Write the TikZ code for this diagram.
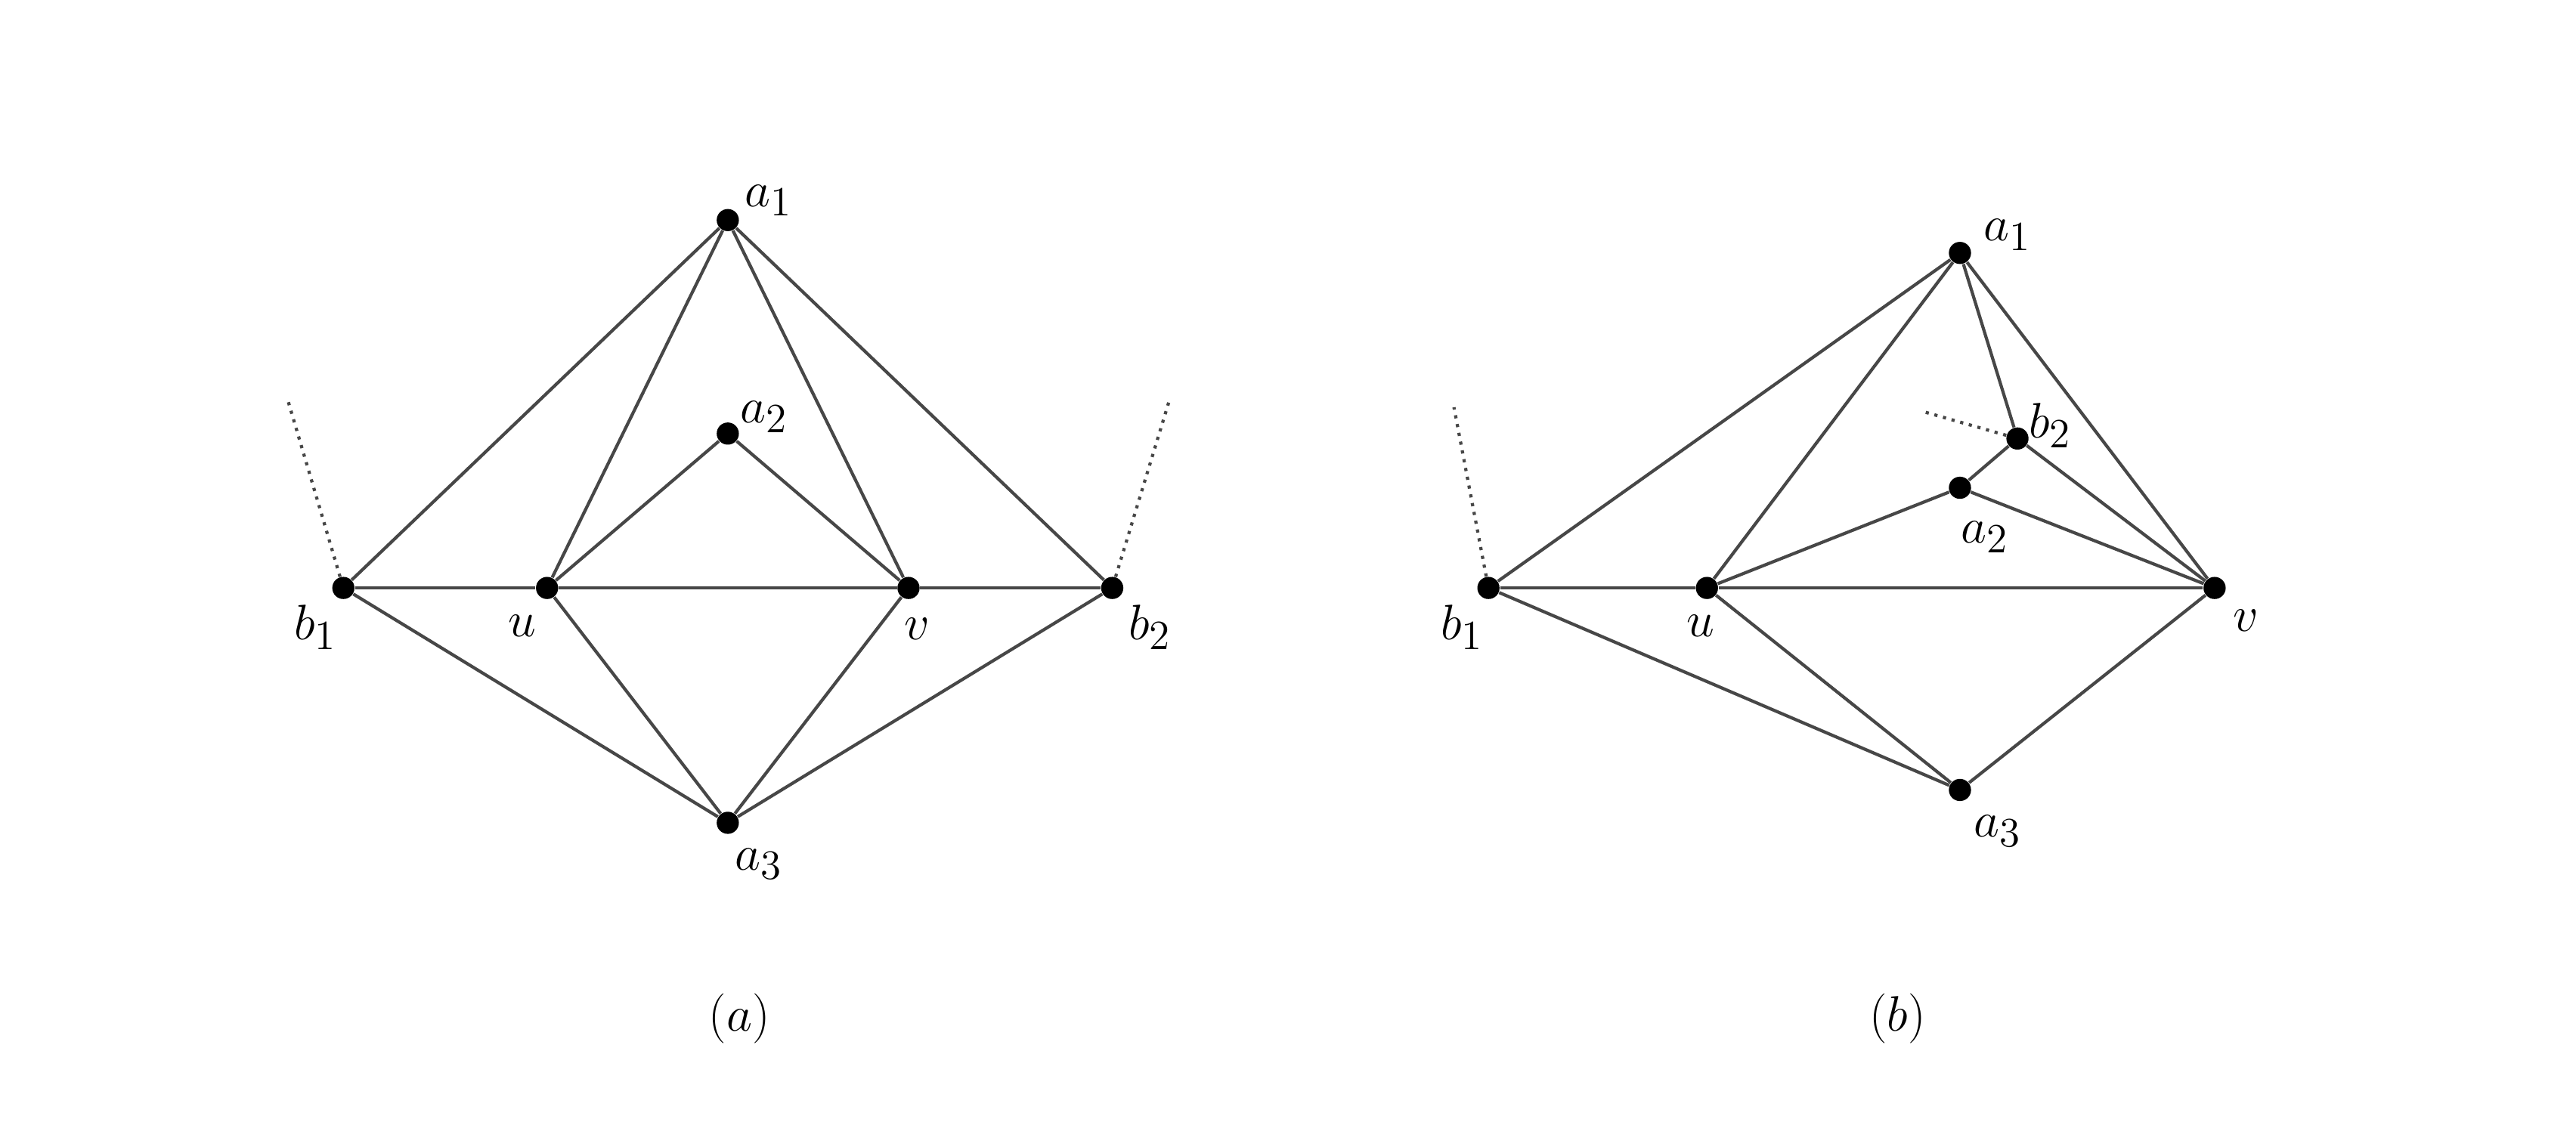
\documentclass[tikz,border=0pt]{standalone}
\begin{document}
\begin{tikzpicture}[x=0.02cm,y=-0.02cm,
  vtx/.style={circle,fill=black,inner sep=0pt,minimum size=0.27cm},
  edge/.style={draw=black!72,line width=1.1pt},
  dots/.style={draw=black!72,line width=1.1pt,dotted},
  lab/.style={inner sep=0pt,font=\fontsize{19}{22}\selectfont}]
\useasboundingbox (0,0) rectangle (1568,698);
% (a)
\node[vtx] (a1) at (443,134) {};
\node[vtx] (a2) at (443,264) {};
\node[vtx] (u) at (333,358) {};
\node[vtx] (v) at (553,358) {};
\node[vtx] (b1) at (209,358) {};
\node[vtx] (b2) at (677,358) {};
\node[vtx] (a3) at (443,501) {};
\coordinate (d1) at (175,243);
\coordinate (d2) at (712,243);
\foreach \s/\t in {b1/a1,b1/u,b1/a3,u/a1,u/a2,u/v,u/a3,a1/v,a1/b2,a2/v,v/b2,v/a3,b2/a3}
  \draw[edge] (\s) -- (\t);
\draw[dots] (b1) -- (d1);
\draw[dots] (b2) -- (d2);
\node[lab] (la1) at (468,122) {$a_1$};
\node[lab] (la2) at (465,254) {$a_2$};
\node[lab] (lb1) at (192,382) {$b_1$};
\node[lab] (lu) at (318,381) {$u$};
\node[lab] (lv) at (558,383) {$v$};
\node[lab] (lb2) at (700,382) {$b_2$};
\node[lab] (la3) at (462,526) {$a_3$};
\node[lab] (capa) at (450,620) {$(a)$};
% (b)
\node[vtx] (B-a1) at (1193,154) {};
\node[vtx] (B-b2) at (1228,267) {};
\node[vtx] (B-a2) at (1193,297) {};
\node[vtx] (B-u) at (1039,358) {};
\node[vtx] (B-v) at (1348,358) {};
\node[vtx] (B-b1) at (906,358) {};
\node[vtx] (B-a3) at (1193,481) {};
\coordinate (Bd1) at (885,248);
\coordinate (Bd2) at (1172,251);
\foreach \s/\t in {b1/a1,b1/u,b1/a3,u/a1,u/a2,u/v,u/a3,a1/b2,a1/v,b2/a2,b2/v,a2/v,v/a3}
  \draw[edge] (B-\s) -- (B-\t);
\draw[dots] (B-b1) -- (Bd1);
\draw[dots] (B-b2) -- (Bd2);
\node[lab] (Bla1) at (1222,143) {$a_1$};
\node[lab] (Blb2) at (1248,259) {$b_2$};
\node[lab] (Bla2) at (1208,327) {$a_2$};
\node[lab] (Blb1) at (890,382) {$b_1$};
\node[lab] (Blu) at (1035,381) {$u$};
\node[lab] (Blv) at (1367,378) {$v$};
\node[lab] (Bla3) at (1216,506) {$a_3$};
\node[lab] (capb) at (1155,620) {$(b)$};
\end{tikzpicture}
\end{document}
